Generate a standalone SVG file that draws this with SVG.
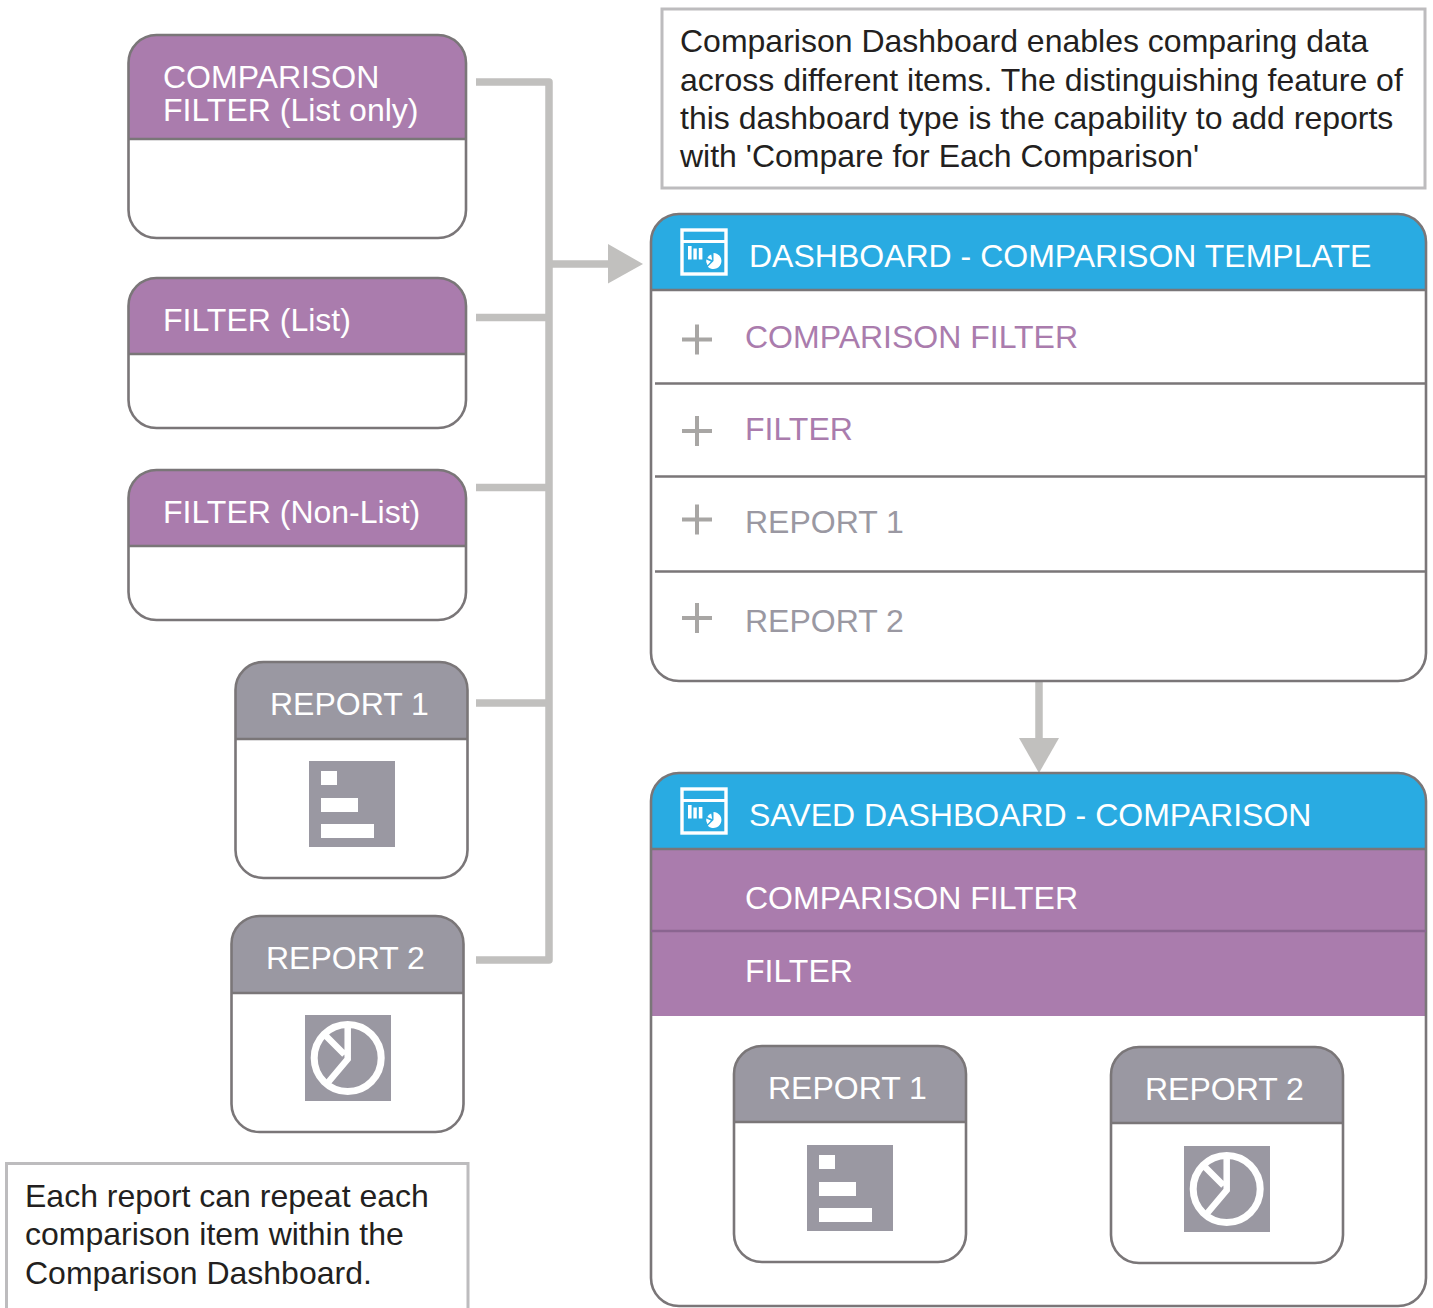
<svg xmlns="http://www.w3.org/2000/svg" width="1433" height="1308" viewBox="0 0 1433 1308">
<style>
text{font-family:"Liberation Sans",Arial,sans-serif;font-size:32px}
.w{fill:#fff}.p{fill:#AA7CAD}.g{fill:#9A98A2}.k{fill:#231F20}
.o{fill:none;stroke:#7A7678;stroke-width:2.6}
.d{fill:none;stroke:#7A7678;stroke-width:2.6}
.c{fill:none;stroke:#C1C0BE;stroke-width:7.5;stroke-linejoin:round}
.b{fill:#fff;stroke:#BDBCBE;stroke-width:3}
.plus{stroke:#A8A6A4;stroke-width:4;fill:none}
</style>
<defs>
<g id="dash"><rect x="2" y="2" width="44" height="44" fill="none" stroke="#fff" stroke-width="3.4"/><path d="M2 13.500H46" stroke="#fff" stroke-width="3"/><path d="M8 18h3.600v13.400H8zM13.400 20.500h3.400v10.900H13.400zM18.800 20h3.600v11.400h-3.600z" fill="#fff"/><path d="M33.500 25a8 8 0 1 1-5.700 13.700l5.700-5.700z" fill="#fff"/><path d="M31.200 26.500l1 5.600-4.900-2.200a7 7 0 0 1 3.900-3.400zM26.300 31.600l4.600 2-3.400 3.700a7 7 0 0 1-1.200-5.700z" fill="#fff"/></g>
<g id="bars"><rect width="86" height="86" fill="#9A98A2"/><path d="M12 10h16v14H12zM12 37h37v14H12zM12 63h53v14H12z" fill="#fff"/></g>
<g id="pie"><rect width="86" height="86" fill="#9A98A2"/><circle cx="42.700" cy="43" r="33.500" fill="none" stroke="#fff" stroke-width="7"/><path d="M42.700 9V44L23 67.500M20 20L39.500 39.500" fill="none" stroke="#fff" stroke-width="6.500"/></g>
</defs>
<g id="connectors">
<path class="c" d="M476 82H549V960H476M476 317.500H549M476 487.500H549M476 703H549M549 264H612"/>
<polygon points="608,244 643,264 608,283.500" fill="#C1C0BE"/>
<path class="c" d="M1039 682V740"/>
<polygon points="1019,738 1059,738 1039,773" fill="#C1C0BE"/>
</g>
<g id="note-top"><rect class="b" x="662" y="9" width="763" height="179"/>
<text class="k" x="680" y="52">Comparison Dashboard enables comparing data</text>
<text class="k" x="680" y="91">across different items. The distinguishing feature of</text>
<text class="k" x="680" y="129">this dashboard type is the capability to add reports</text>
<text class="k" x="680" y="167">with 'Compare for Each Comparison'</text></g>
<g id="node-comparison-filter"><path class="p" d="M129 139V63a28 28 0 0 1 28-28H438a28 28 0 0 1 28 28V139z"/><rect class="o" x="128.500" y="35" width="337.500" height="203" rx="28"/><path class="d" d="M129 139H466"/>
<text class="w" x="163" y="88">COMPARISON</text><text class="w" x="163" y="121">FILTER (List only)</text></g>
<g id="node-filter-list"><path class="p" d="M129 354V306a28 28 0 0 1 28-28H438a28 28 0 0 1 28 28V354z"/><rect class="o" x="128.500" y="278" width="337.500" height="150" rx="28"/><path class="d" d="M129 354H466"/>
<text class="w" x="163" y="331">FILTER (List)</text></g>
<g id="node-filter-nonlist"><path class="p" d="M129 546V498a28 28 0 0 1 28-28H438a28 28 0 0 1 28 28V546z"/><rect class="o" x="128.500" y="470" width="337.500" height="150" rx="28"/><path class="d" d="M129 546H466"/>
<text class="w" x="163" y="523">FILTER (Non-List)</text></g>
<g id="node-report1"><path class="g" d="M236 739V690a28 28 0 0 1 28-28H439a28 28 0 0 1 28 28V739z"/><rect class="o" x="235.500" y="662" width="232" height="216" rx="28"/><path class="d" d="M236 739H467"/>
<text class="w" x="270" y="715">REPORT 1</text><use href="#bars" x="309" y="761"/></g>
<g id="node-report2"><path class="g" d="M232 993V944a28 28 0 0 1 28-28H435a28 28 0 0 1 28 28V993z"/><rect class="o" x="231.500" y="916" width="232" height="216" rx="28"/><path class="d" d="M232 993H463"/>
<text class="w" x="266" y="969">REPORT 2</text><use href="#pie" x="305" y="1015"/></g>
<g id="note-bottom"><path class="b" d="M468 1308V1163.500H6.500V1308"/>
<text class="k" x="25" y="1207">Each report can repeat each</text>
<text class="k" x="25" y="1245">comparison item within the</text>
<text class="k" x="25" y="1284">Comparison Dashboard.</text></g>
<g id="template"><path d="M651 290V242a28 28 0 0 1 28-28H1398a28 28 0 0 1 28 28V290z" fill="#29ABE2"/><rect class="o" x="651" y="214" width="775" height="467" rx="28"/><path class="d" d="M651 290H1426M655 383.500H1426M655 476.500H1426M655 571.500H1426"/>
<use href="#dash" x="680" y="228"/>
<text class="w" x="749" y="267">DASHBOARD - COMPARISON TEMPLATE</text>
<path class="plus" d="M682 339.500H712M697 324.500V354.500M682 431H712M697 416V446M682 519.500H712M697 504.500V534.500M682 618H712M697 603V633"/>
<text class="p" x="745" y="348">COMPARISON FILTER</text>
<text class="p" x="745" y="440">FILTER</text>
<text class="g" x="745" y="533">REPORT 1</text>
<text class="g" x="745" y="632">REPORT 2</text></g>
<g id="saved"><path d="M651 849V801a28 28 0 0 1 28-28H1398a28 28 0 0 1 28 28V849z" fill="#29ABE2"/><rect class="p" x="651" y="849" width="775" height="167"/><rect class="o" x="651" y="773" width="775" height="533" rx="28"/><path class="d" d="M651 849H1426"/><path d="M651 931H1426" fill="none" stroke="#8A6590" stroke-width="2.600"/>
<use href="#dash" x="680" y="787"/>
<text class="w" x="749" y="826">SAVED DASHBOARD - COMPARISON</text>
<text class="w" x="745" y="909">COMPARISON FILTER</text>
<text class="w" x="745" y="982">FILTER</text></g>
<g id="saved-report1"><path class="g" d="M734 1122V1074a28 28 0 0 1 28-28H938a28 28 0 0 1 28 28V1122z"/><rect class="o" x="734" y="1046" width="232" height="216" rx="28"/><path class="d" d="M734 1122H966"/>
<text class="w" x="768" y="1099">REPORT 1</text><use href="#bars" x="807" y="1145"/></g>
<g id="saved-report2"><path class="g" d="M1111 1123V1075a28 28 0 0 1 28-28H1315a28 28 0 0 1 28 28V1123z"/><rect class="o" x="1111" y="1047" width="232" height="216" rx="28"/><path class="d" d="M1111 1123H1343"/>
<text class="w" x="1145" y="1100">REPORT 2</text><use href="#pie" x="1184" y="1146"/></g>
</svg>
